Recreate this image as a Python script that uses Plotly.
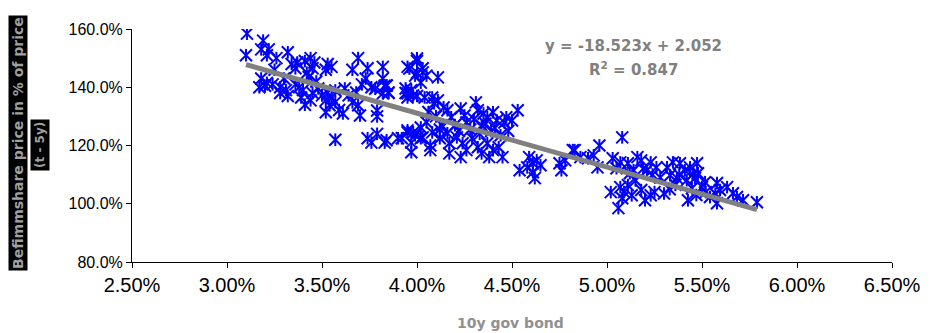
import plotly.graph_objects as go

# 10y government bond yield (%)
bond_yield = [
    3.105, 3.10, 3.19, 3.18, 3.22, 3.21, 3.26, 3.32, 3.34, 3.37, 3.36, 3.41, 3.44, 3.46, 3.45, 3.42,
    3.53, 3.55, 3.52, 3.69, 3.66, 3.74, 3.82, 3.73, 3.71, 3.76, 3.78, 3.83, 3.85, 3.79, 3.79, 3.57,
    3.74, 3.79, 3.76, 3.83, 3.94, 3.97, 4.00, 3.95, 4.00, 3.95, 4.00, 4.03, 3.95, 3.99, 4.02, 3.97,
    3.90, 3.18, 3.21, 3.20, 3.24, 3.17, 3.28, 3.31, 3.32, 3.28, 3.38, 3.40, 3.39, 3.41, 3.45, 3.44,
    3.48, 3.50, 3.52, 3.53, 3.54, 3.52, 3.55, 3.57, 3.59, 3.62, 3.64, 3.66, 3.69, 3.70, 3.68, 3.61,
    3.57, 3.84, 3.82,
    4.00, 3.96, 4.03, 3.99, 4.11, 4.05, 4.02,
    3.84, 3.85, 3.82, 3.94, 3.95, 3.98, 4.04, 4.08, 4.09, 4.11,
    4.14, 4.16, 4.18, 4.23, 4.25, 4.31, 4.32, 4.35, 4.37, 4.40, 4.42, 4.46, 4.47, 4.53, 4.50, 4.34, 4.26,
    3.95, 3.98, 3.92, 4.02, 4.03, 4.07, 4.08, 4.12, 4.16, 4.17, 4.21, 4.24, 4.26, 4.29, 4.32, 4.34,
    4.37, 4.40, 4.43, 4.45, 4.38, 3.97, 3.84, 4.07, 4.17, 4.23,
    4.59, 4.61, 4.63, 4.58, 4.61, 4.54, 4.62, 4.65,
    4.75, 4.78, 4.82, 4.76,
    4.83, 4.86, 4.90, 4.93, 4.96, 4.95, 5.08,
    5.03, 5.07, 5.05, 5.11, 5.16, 5.18, 5.23, 5.21, 5.26, 5.14,
    5.02, 5.07, 5.09, 5.11, 5.08, 5.13, 5.06, 5.18, 5.20, 5.23, 5.25,
    5.316, 5.347, 5.384, 5.41, 5.437, 5.474, 5.479, 5.332, 5.368, 5.42, 5.463, 5.516, 5.50, 5.579,
    5.595, 5.632, 5.663, 5.684, 5.542, 5.579, 5.426, 5.447, 5.789, 5.716,
    5.33, 5.36, 5.30,
    4.20, 4.28, 4.33, 4.39, 4.44, 4.30, 4.22, 4.36, 4.41, 4.48,
    4.05, 4.10, 4.13, 4.06, 4.12,
    5.12, 5.19, 5.24, 5.28, 5.15,
    5.38, 5.45, 5.52, 5.47, 5.57,
    3.30, 3.36, 3.47, 3.43, 3.25,
]

# Share price in % of price (t - 5y)
price_ratio = [
    158.4, 151.0, 156.0, 153.0, 153.0, 151.0, 150.0, 152.0, 148.0, 148.5, 146.5, 149.0, 150.0, 148.5, 146.5, 145.0,
    148.0, 147.0, 146.0, 150.0, 146.0, 146.5, 147.0, 143.0, 141.0, 140.0, 139.5, 140.5, 138.0, 132.0, 130.0, 122.0,
    122.5, 124.0, 121.0, 121.0, 138.0, 139.0, 137.0, 136.5, 149.0, 147.0, 145.0, 146.5, 124.5, 123.5, 122.5, 121.0,
    122.5, 143.0, 141.5, 140.5, 141.0, 140.0, 140.0, 139.0, 137.0, 138.0, 140.0, 139.0, 136.5, 134.0, 138.0, 135.5,
    139.6, 137.2, 135.5, 138.2, 133.8, 131.4, 136.5, 134.9, 132.2, 139.6, 137.2, 134.8, 133.8, 130.3, 138.2, 131.0,
    138.9, 140.6, 143.0,
    149.9, 146.4, 145.1, 144.0, 143.4, 144.0, 141.6,
    140.6, 138.2, 137.9, 139.6, 137.9, 137.2, 136.5, 136.5, 134.5, 135.5,
    133.1, 132.1, 129.7, 132.7, 130.3, 134.8, 132.1, 131.0, 129.7, 131.4, 128.6, 127.9, 129.7, 132.1, 128.6, 126.9, 127.9,
    125.2, 124.5, 122.5, 126.2, 122.8, 120.0, 124.5, 122.5, 124.2, 120.8, 122.8, 120.8, 118.4, 122.5, 119.4, 117.3,
    120.8, 118.4, 119.4, 116.0, 116.0, 117.7, 121.8, 118.4, 117.3, 116.0,
    116.0, 113.9, 114.9, 112.5, 110.8, 111.5, 108.8, 113.2,
    113.9, 114.9, 118.4, 111.5,
    118.4, 116.0, 115.6, 116.6, 120.0, 112.5, 122.8,
    115.6, 114.2, 112.2, 113.9, 116.0, 114.9, 114.2, 111.5, 112.5, 111.5,
    104.0, 105.7, 104.0, 106.4, 101.9, 102.9, 98.5, 104.7, 101.2, 102.9, 104.0,
    112.5, 114.2, 113.9, 111.5, 112.5, 113.9, 110.5, 109.8, 108.8, 108.1, 108.8, 107.4, 105.7, 107.1,
    104.7, 105.7, 103.6, 102.3, 102.3, 100.2, 101.2, 105.3, 100.5, 101.2,
    105.0, 106.5, 103.5,
    127.0, 125.5, 124.0, 125.0, 123.5, 129.0, 125.0, 127.5, 126.0, 125.0,
    128.0, 130.0, 127.0, 131.5, 125.5,
    110.5, 112.0, 110.0, 109.0, 108.0,
    110.0, 110.0, 104.0, 103.0, 103.5,
    143.0, 141.0, 142.0, 143.5, 146.0,
]

# Linear trend (fractions): y = slope * x + intercept
trend_slope = -18.523
trend_intercept = 2.052
r_squared = 0.847

x_ticks = [2.5, 3.0, 3.5, 4.0, 4.5, 5.0, 5.5, 6.0, 6.5]
y_ticks = [80, 100, 120, 140, 160]

trend_x = [min(bond_yield), max(bond_yield)]
trend_y = [100 * (trend_slope * v / 100 + trend_intercept) for v in trend_x]

blue = "#0000FF"
gray = "#808080"
W, H = 941, 333
L, R, T, B = 132, 49, 29, 71
pw, ph = W - L - R, H - T - B


def px(xp):
    return (xp - L) / pw


def py(yp):
    return 1 - (yp - T) / ph


fig = go.Figure()
fig.add_trace(go.Scatter(
    x=bond_yield, y=price_ratio, mode="markers",
    marker=dict(symbol="x-thin-open", size=12, color=blue, line=dict(color=blue, width=2)),
    showlegend=False,
))
fig.add_trace(go.Scatter(
    x=bond_yield, y=price_ratio, mode="markers",
    marker=dict(symbol="line-ns-open", size=9, color=blue, line=dict(color=blue, width=2)),
    showlegend=False, hoverinfo="skip",
))
fig.add_trace(go.Scatter(
    x=trend_x, y=trend_y, mode="lines",
    line=dict(color=gray, width=5), hoverinfo="skip", showlegend=False,
))

bold_font = "DejaVu Sans, Verdana, sans-serif"
fig.update_layout(
    width=W, height=H,
    margin=dict(l=L, r=R, t=T, b=B),
    paper_bgcolor="white", plot_bgcolor="white",
    font=dict(family="Liberation Sans, Arial, sans-serif", color="black"),
    xaxis=dict(
        range=[2.5, 6.5], tickvals=x_ticks,
        ticktext=[f"{v:.2f}%" for v in x_ticks],
        showgrid=False, zeroline=False, showline=True, linecolor="black", linewidth=1,
        ticks="outside", ticklen=5, tickcolor="black",
        tickfont=dict(size=20, color="black"),
    ),
    yaxis=dict(
        range=[80, 160], tickvals=y_ticks,
        ticktext=[f"{v:.1f}%" for v in y_ticks],
        showgrid=False, zeroline=False, showline=True, linecolor="black", linewidth=1,
        ticks="outside", ticklen=5, tickcolor="black",
        tickfont=dict(size=16, color="black"),
    ),
    annotations=[
        dict(text=f"<b>y = {trend_slope}x + {trend_intercept}</b>", xref="paper", yref="paper",
             x=px(633), y=py(46), showarrow=False,
             font=dict(size=15, color=gray, family=bold_font),
             xanchor="center", yanchor="middle"),
        dict(text=f"<b>R<sup>2</sup> = {r_squared}</b>", xref="paper", yref="paper",
             x=px(633), y=py(69), showarrow=False,
             font=dict(size=15, color=gray, family=bold_font),
             xanchor="center", yanchor="middle"),
        dict(text="<b>10y gov bond</b>", xref="paper", yref="paper",
             x=px(510), y=py(323), showarrow=False,
             font=dict(size=14, color="#909090", family=bold_font), xanchor="center", yanchor="middle"),
        dict(text="<b>Befimmshare price in % of price</b>", xref="paper", yref="paper",
             x=px(18), y=py(143), showarrow=False, textangle=-90,
             font=dict(size=14, color="#A0A0A0", family=bold_font), bgcolor="black", borderpad=1,
             xanchor="center", yanchor="middle"),
        dict(text="<b>(t - 5y)</b>", xref="paper", yref="paper",
             x=px(40), y=py(145), showarrow=False, textangle=-90,
             font=dict(size=12, color="#A0A0A0", family=bold_font), bgcolor="black", borderpad=2,
             xanchor="center", yanchor="middle"),
    ],
)

fig.write_html(
    "out.html",
    config={"displayModeBar": False},
    post_script="document.body.style.margin='0';document.body.style.overflow='hidden';",
)
